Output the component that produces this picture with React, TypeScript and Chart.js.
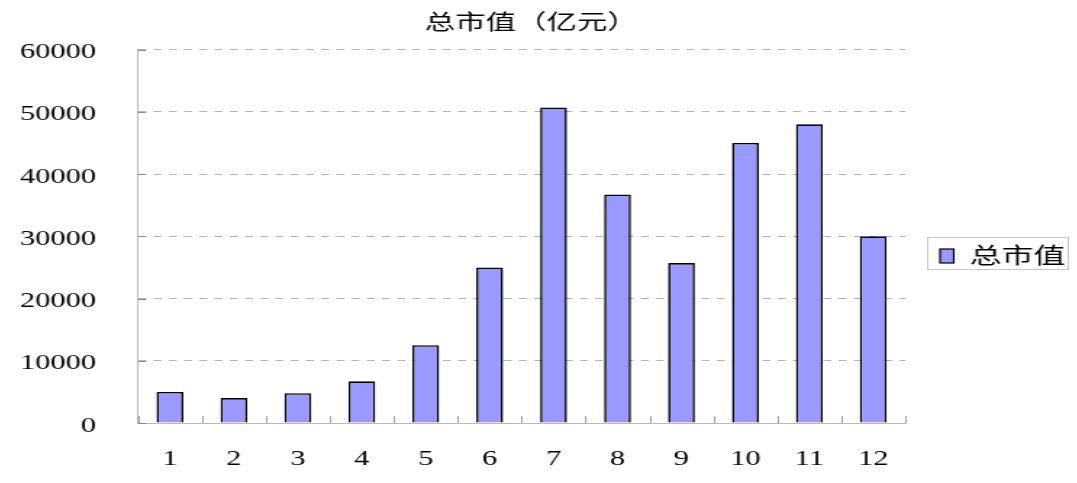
import React, { useEffect, useRef } from "react";
import { Chart, registerables } from "chart.js";

Chart.register(...registerables);

const categories: string[] = ["1", "2", "3", "4", "5", "6", "7", "8", "9", "10", "11", "12"];
const marketCap: number[] = [5000, 4000, 4800, 6700, 12500, 25000, 50700, 36700, 25700, 45000, 48000, 30000];
const seriesLabel = "总市值";
const chartTitle = "总市值（亿元）";
const yTicks: number[] = [0, 10000, 20000, 30000, 40000, 50000, 60000];

const SERIF = "'Liberation Serif', 'Times New Roman', serif";
const CJK = "'Noto Sans CJK SC', sans-serif";

const inwardTicks = {
  id: "inwardTicks",
  beforeDatasetsDraw(chart: any) {
    const { ctx, chartArea } = chart;
    const xs = chart.scales.x;
    const ys = chart.scales.y;
    ctx.save();
    ctx.strokeStyle = "#a0a0a0";
    ctx.lineWidth = 1;
    const n = categories.length;
    const step = xs.width / n;
    for (let i = 0; i <= n; i++) {
      const x = Math.round(xs.left + i * step) + 0.5;
      ctx.beginPath();
      ctx.moveTo(x, chartArea.bottom);
      ctx.lineTo(x, chartArea.bottom - 7);
      ctx.stroke();
    }
    ctx.strokeStyle = "#888";
    yTicks.forEach((v) => {
      const y = Math.round(ys.getPixelForValue(v)) + 0.5;
      ctx.beginPath();
      ctx.moveTo(chartArea.left, y);
      ctx.lineTo(chartArea.left + 5.5, y);
      ctx.stroke();
    });
    ctx.restore();
  },
};

const titleAndLegend = {
  id: "titleAndLegend",
  afterDraw(chart: any) {
    const { ctx, chartArea } = chart;
    const ds = chart.data.datasets[0];
    ctx.save();
    // title
    ctx.fillStyle = "#000";
    ctx.font = `21px ${CJK}`;
    ctx.textAlign = "center";
    ctx.textBaseline = "middle";
    ctx.fillText(chartTitle, chart.width / 2 - 5, 13);
    // legend
    const left = chartArea.right + 15.5;
    const top = 229.5;
    const w = 97;
    const h = 32;
    ctx.strokeStyle = "#c8c8c8";
    ctx.lineWidth = 1;
    ctx.strokeRect(left, top, w, h);
    ctx.fillStyle = ds.backgroundColor;
    ctx.fillRect(left + 8.5, top + 11.5, 9.5, 14);
    ctx.strokeStyle = "#000";
    ctx.lineWidth = 1.2;
    ctx.strokeRect(left + 8.5, top + 11.5, 9.5, 14);
    ctx.fillStyle = "#000";
    ctx.font = `22px ${CJK}`;
    ctx.textBaseline = "middle";
    ctx.textAlign = "left";
    ctx.fillText(ds.label, left + 29, top + h / 2 + 1);
    ctx.restore();
  },
};

export default function App() {
  const ref = useRef<HTMLCanvasElement | null>(null);

  useEffect(() => {
    if (!ref.current) return;
    Chart.defaults.color = "#000";
    const chart = new Chart(ref.current, {
      type: "bar",
      data: {
        labels: categories,
        datasets: [
          {
            label: seriesLabel,
            data: marketCap,
            backgroundColor: "#9999ff",
            borderColor: "#000000",
            borderWidth: 1.6,
            barPercentage: 0.42,
            categoryPercentage: 1,
          },
        ],
      },
      options: {
        responsive: false,
        devicePixelRatio: 1,
        animation: false,
        layout: { padding: { left: 0, right: 113, top: 41, bottom: 0 } },
        plugins: {
          legend: { display: false },
          tooltip: { enabled: false },
          title: { display: false },
        },
        scales: {
          x: {
            offset: true,
            grid: { display: false, drawTicks: false },
            border: { display: true, color: "#b8b8b8", width: 1 },
            ticks: {
              color: "#000",
              font: { family: SERIF, size: 21 },
              padding: 24,
              maxRotation: 0,
            },
            afterFit(scale: any) {
              scale.height = 52;
            },
          },
          y: {
            min: 0,
            max: 60000,
            afterBuildTicks(scale: any) {
              scale.ticks = yTicks.map((v) => ({ value: v }));
            },
            grid: { color: "#b4b4b4", lineWidth: 1, drawTicks: false },
            border: { display: true, color: "#b8b8b8", width: 1, dash: [5.5, 5] },
            ticks: {
              color: "#000",
              font: { family: SERIF, size: 21 },
              padding: 29,
              labelOffset: 3,
              callback: (v: any) => String(v),
            },
            afterFit(scale: any) {
              scale.width = 89.7;
            },
          },
        },
      },
      plugins: [inwardTicks, titleAndLegend],
    });
    return () => chart.destroy();
  }, []);

  return (
    <canvas
      ref={ref}
      width={732}
      height={467}
      style={{ width: "1061px", height: "467px", display: "block" }}
    />
  );
}
